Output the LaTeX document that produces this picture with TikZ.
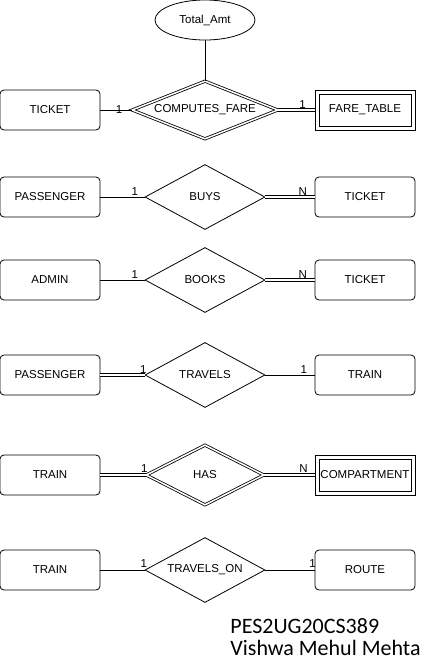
\documentclass[tikz,border=0pt]{standalone}
\usepackage{fontspec}
\setmainfont{Liberation Sans}
\newfontfamily\notefont{Carlito}
\usetikzlibrary{shapes.geometric}

\begin{document}
\begin{tikzpicture}[x=1pt,y=-1pt,line width=0.8pt]
\tikzstyle{entity box}=[draw,rounded corners=4pt,minimum width=100pt,minimum height=40pt,inner sep=1pt,font=\fontsize{11.5}{13}\selectfont]
\tikzstyle{weak box}=[draw,minimum width=100pt,minimum height=40pt,inner sep=0pt,font=\fontsize{11.5}{13}\selectfont]
\tikzstyle{rel box}=[draw,diamond,aspect=1.85,minimum width=120pt,minimum height=65pt,inner sep=0pt,font=\fontsize{11.5}{13}\selectfont]
\tikzstyle{weak rel}=[rel box,double,double distance=1.5pt,minimum width=146pt,minimum height=58pt]
\tikzstyle{attr box}=[draw,ellipse,minimum width=100pt,minimum height=40pt,inner sep=0pt,font=\fontsize{11.5}{13}\selectfont]
\tikzstyle{card}=[inner sep=1pt,font=\fontsize{11.5}{13}\selectfont]
\tikzstyle{total}=[double,double distance=2.5pt]
\useasboundingbox (0,0) rectangle (432,670);

% fila 1
\node[attr box] (amt) at (205,20) {Total\_Amt};
\node[entity box] (ticketA) at (50,110) {TICKET};
\node[weak rel,aspect=2.5] (computes) at (205,110) {COMPUTES\_FARE};
\node[weak box] (fare) at (365,110) {FARE\_TABLE};
\draw ([shift={(4.5,4.5)}]fare.north west) rectangle ([shift={(-4.5,-4.5)}]fare.south east);
\draw (amt) -- (computes);
\draw (ticketA) -- node[card,pos=0.6] {1} (computes);
\draw[total] (computes) -- node[card,pos=0.67,above] {1} (fare);

% fila 2
\node[entity box] (passA) at (50,197) {PASSENGER};
\node[rel box] (buys) at (205,197) {BUYS};
\node[entity box] (ticketB) at (365,197) {TICKET};
\draw (passA) -- node[card,pos=0.78,above] {1} (buys);
\draw[total] (buys) -- node[card,pos=0.76,above] {N} (ticketB);

% fila 3
\node[entity box] (admin) at (50,280) {ADMIN};
\node[rel box] (books) at (205,280) {BOOKS};
\node[entity box] (ticketC) at (365,280) {TICKET};
\draw (admin) -- node[card,pos=0.78,above] {1} (books);
\draw[total] (books) -- node[card,pos=0.76,above] {N} (ticketC);

% fila 4
\node[entity box] (passB) at (50,375) {PASSENGER};
\node[rel box] (travels) at (205,375) {TRAVELS};
\node[entity box] (trainA) at (365,375) {TRAIN};
\draw[total] (passB) -- node[card,pos=0.97,above] {1} (travels);
\draw (travels) -- node[card,pos=0.78,above] {1} (trainA);

% fila 5
\node[entity box] (trainB) at (50,475) {TRAIN};
\node[weak rel,minimum width=118pt,minimum height=60pt] (has) at (205,475) {HAS};
\node[weak box] (compart) at (365,475) {COMPARTMENT};
\draw ([shift={(4.5,4.5)}]compart.north west) rectangle ([shift={(-4.5,-4.5)}]compart.south east);
\draw[total] (trainB) -- node[card,pos=0.97,above=1.5pt] {1} (has);
\draw[total] (has) -- node[card,pos=0.78,above=1.5pt] {N} (compart);

% fila 6
\node[entity box] (trainC) at (50,570) {TRAIN};
\node[rel box] (travelson) at (205,570) {TRAVELS\_ON};
\node[entity box] (route) at (365,570) {ROUTE};
\draw (trainC) -- node[card,pos=0.98,above=1pt] {1} (travelson);
\draw (travelson) -- node[card,pos=0.96,above=1pt] {1} (route);

\node[anchor=base west,inner sep=0pt,font=\notefont\fontsize{22}{22}\selectfont] (srn) at (230,633) {PES2UG20CS389};
\node[anchor=base west,inner sep=0pt,font=\notefont\fontsize{22}{22}\selectfont] (author) at (230,655) {Vishwa Mehul Mehta};
\end{tikzpicture}
\end{document}
